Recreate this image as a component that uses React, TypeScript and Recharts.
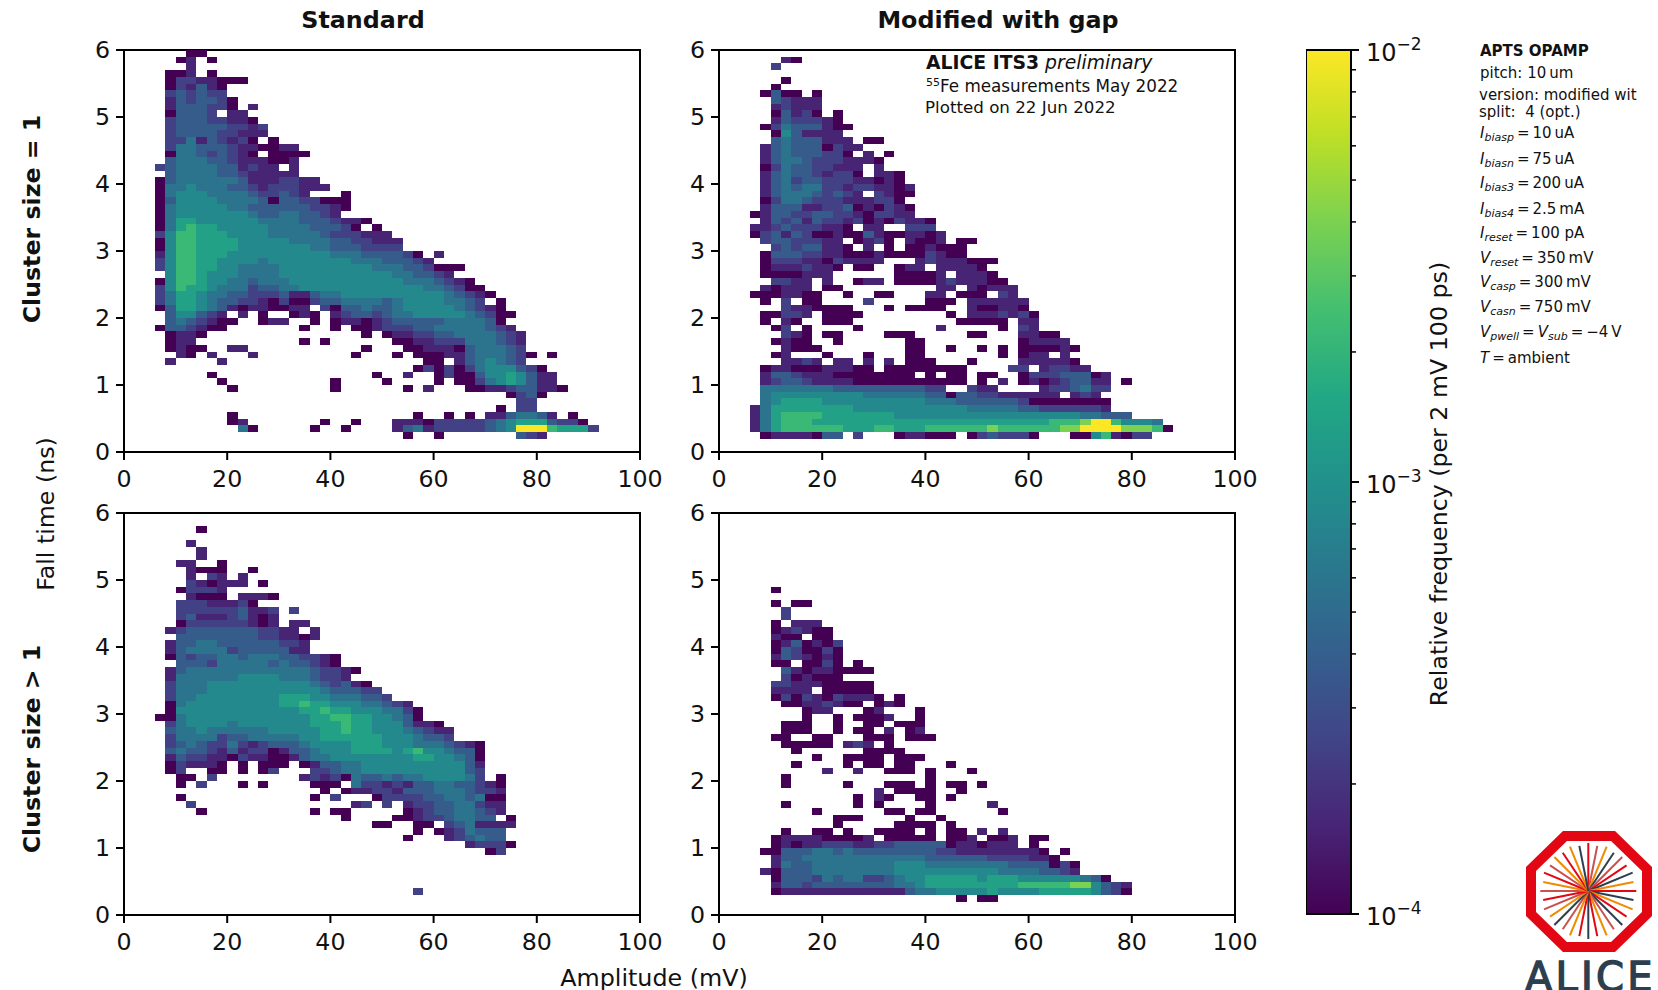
import React from "react";
import { ScatterChart, Scatter, XAxis, YAxis, ReferenceArea } from "recharts";

// Histogram rows, top (5.9-6.0 ns) to bottom. Each char is one 2 mV bin, grouped by five:
const LEVEL_FREQ = [1e-4, 1.58e-4, 2.4e-4, 3.8e-4, 5.8e-4, 8.7e-4, 1.38e-3, 2.2e-3, 4e-3, 1e-2];

const ROWS_STANDARD_SINGLE = [
  "..... .00..",
  "..... 01.0.",
  "..... .1...",
  "....0 01.0.",
  "....0 22110 00",
  "....0 21310",
  "....2 32322",
  "....1 32332 0",
  "....1 33322 0.1",
  "....0 3332. 11",
  "....2 33322 110",
  "....2 33333 2212",
  "....2 33332 2111",
  "....2 24132 120.0",
  "....2 44333 21100 11",
  "....0 44323 210.0 000",
  "....3 44433 21110 01",
  "...23 44443 31211 .1",
  "....3 44443 32111 11",
  "...03 44444 43111 2211",
  "...04 45444 33212 22111",
  "...04 55544 44322 321.. .0",
  "...03 55554 44430 33220 00",
  "...04 55555 44333 33322 10",
  "...04 55555 55433 44332 1",
  "...04 66555 55544 44333 2110",
  "...04 67665 55554 44433 320.0",
  "...25 77666 55554 44443 22211 1",
  "...05 77666 65555 54444 33221 11",
  "...05 77666 65555 55544 33322 22",
  "...15 77666 55555 55555 44433 3320. 1",
  "...25 77665 55545 55555 55444 33321",
  "...25 77665 54444 55555 55554 44332 000",
  "....5 77655 54444 55555 55555 54433 21",
  "...05 77655 44344 45555 55555 55444 3210",
  "...25 76654 44233 44555 55555 55554 43200",
  "...24 66544 33222 31134 45555 55555 54321 0",
  "...24 66543 32210 20023 34444 34555 54432 .0",
  "...03 66543 10110 011.2 03343 34555 55432 10",
  "....3 55321 .1.0. .010. 12332 34455 55543 200",
  "....3 43210 0..01 1..0. 01101 23333 34444 30",
  "...03 32100 ..... ..0.. 0.001 22233 44444 321",
  "....0 110.. ..... ..... ...0. 01122 33444 4321",
  "....0 11... ..... ..0.0 ..... .0011 22244 4321",
  "....0 100.. 11... ..... ...0. ..001 11034 4432",
  "..... 10.1. ..1.. ..... ..0.. .0.00 01134 44320 .0",
  "....1 ....1 ..... ..... ..... ....0 0.134 5432",
  "..... ..... ..... ..... ..... ...02 02024 55532 0",
  "..... ...0. ..... ..... ....0 ..1.. 02003 55653 11",
  "..... ....0 ..... ..... 0.... 0.... 0.002 45653 11",
  "..... ..... 0.... ..... 0.... ..0.1 ...00 11233 110",
  "..... ..... ..... ..... ..... ..... ..... ..023 0",
  "..... ..... ..... ..... ..... ..... ..... ...22",
  "..... ..... ..... ..... ..... ..... ..... .0.22",
  "..... ..... 0.... ..... ..... ...0. .0.0. 11344 31.0",
  "..... ..... 01... ....0 ..0.. .1110 22222 34566 63220",
  "..... ..... .40.. ...0. .0... .1341 22222 34599 97666 2",
  "..... ..... ..... ..... ..... ..0.. 0.... ...32 1",
];

const ROWS_GAP_SINGLE = [
  "",
  "..... .10",
  "..... 2",
  "",
  "..... .0",
  "..... 0",
  "....0 300.0",
  "..... 32111",
  "..... 12111",
  "..... 03120 .0",
  "..... 13222 10",
  "....0 24333 100",
  "..... 05311 11",
  "..... 34333 111.0 0",
  "....1 34333 0211",
  "....1 34333 220.1 .0",
  "....1 34432 22111 0",
  "....0 24332 2111. 1",
  "....1 34332 1220. 110",
  "....1 34233 22211 010",
  "....1 34344 22122 1101",
  "....1 34443 2321. 2100",
  "....0 24432 22111 220",
  "....1 33311 22301 0210",
  "...01 33223 32210 2211",
  "....1 32313 22120 10211 0",
  "...11 23222 110.1 1..22 2",
  "...02 31320 01003 10011 01",
  "....2 33222 11.01 20.10 01.00",
  "..... 23233 110.1 .0.00 1000",
  "....0 33322 11000 10000 2100",
  "....0 22211 02111 1...1 21110 00",
  "....0 11121 10.00 ..011 .1111 0",
  "....0 00011 1.... ..000 01.11 10",
  "..... 2211. 1..01 1.000 01211 100",
  "....1 0111. 00... ..... .11.1 0111",
  "...00 01100 ..0.. 00... 11.00 0.21",
  "....0 .2.00 ....2 ..... 000.1 11111",
  "..... .2110 000.. .0.00 00..1 00110",
  "....0 0221. 0000. ..... ..0.1 11212 0",
  "....0 .10.. 000.. ..... ...00 000.1 1",
  "..... 02.0. ...0. ..... .1... ..0.2 1",
  "..... .210. 00... .000. ....0 0...1 100",
  "..... 0100. .0... ...00 ..... ....0 1111",
  "..... .1000 ..... ...00 ..0.. 0.0.0 00010",
  "..... 01... 0...0 ...00 ..... ..0.0 11.1",
  "..... .1121 .11.1 .1.00 0...0 ....1 11110",
  "....0 11000 11100 .0000 0000. ...22 .1221 1",
  "....1 33211 10000 0000. 0.00. 00..0 22233 301",
  "....1 23321 11100 00000 0000. 0.1.0 10123 311.0",
  "....4 44444 43333 33333 22..2 11... .1223 422",
  "....4 55555 55554 44444 33033 22111 111.1 21",
  "....4 56666 55555 55555 44433 33332 00000 000",
  "...14 66666 66655 55555 55554 44443 32222 221",
  "...14 67777 66666 66555 55555 55555 55555 44333",
  "...14 67776 66666 66666 66666 66666 66777 89975 554",
  "...14 67777 77666 77666 77777 78777 77788 99998 8870",
  "....0 11110 33.2. ..011 000.0 23222 0...0 05710 22",
];

const ROWS_STANDARD_MULTI = [
  "",
  "",
  "..... ..0",
  "",
  "..... .1",
  "..... ..1",
  "..... ..1",
  "..... 11..0",
  "..... .1000 ..0",
  "..... .1.21 .1",
  "..... .2101 11.0",
  "..... 02221",
  "..... .1000 .1110",
  "..... 22211 120",
  "..... 22222 23112 .2",
  "..... 23111 23101",
  "..... 02222 22101 .11",
  "....1 23333 33322 11.1",
  "..... 33333 33322 1101",
  "....1 33443 33333 221",
  "....1 34444 23333 311",
  "....0 32334 43444 33221 0",
  "..... 33324 44443 43321 0",
  "....1 34444 44444 44432 210",
  "....1 44444 45555 44432 21",
  "....2 44455 55555 55543 2310",
  "....2 44455 55555 55554 33322",
  "....2 44555 55555 66655 44433 2",
  "....0 45555 55555 66766 55544 321",
  "....0 55555 55555 55667 66555 4420",
  "...00 45555 55555 55566 77665 5430",
  "....2 45555 45555 55566 67665 55311 0",
  "....3 44544 44445 55556 67665 55432 11",
  "....2 44442 33444 44556 66666 55543 32",
  "....2 34322 42123 33455 55666 55544 43210",
  "....3 43321 31220 13345 55666 65675 54330",
  "....1 32211 02110 01344 55555 55566 55430",
  "....0 21110 .0.00 0.013 34455 55555 55531",
  "....0 2..00 .0.02 ...22 34455 55555 55532",
  "..... 00.2. ..... ..121 20433 43445 55542 .0",
  "..... 0.2.. .0.0. ...00 0.422 12133 44332 10",
  "..... ..... ..... ....0 .0112 21333 44432 21",
  "..... 0.... ..... ...0. 2...0 22223 34434 00",
  "..... .2... ..... ..... ..12. 2.122 33442 11",
  "..... ..0.. ..... ...0. 00... ..012 33443 21",
  "..... ..... ..... ..... .0... .0012 23443 3.0",
  "..... ..... ..... ..... ....0 0..00 .2341 111",
  "..... ..... ..... ..... ..... ...0. 01243 33",
  "..... ..... ..... ..... ..... ..0.. .1234 33",
  "..... ..... ..... ..... ..... ..... ...12 220",
  "..... ..... ..... ..... ..... ..... ..... 02",
  "",
  "",
  "",
  "",
  "",
  "..... ..... ..... ..... ..... ...2.",
];

const ROWS_GAP_MULTI = [
  "", "", "", "", "", "", "", "", "", "", "",
  "..... 0",
  "",
  "..... 0.00",
  "..... .2",
  "..... .2",
  "..... 0.111",
  "..... 01210 0",
  "..... 100.0 0",
  "..... 01301 02",
  "..... 03200 20",
  "..... 13210 10",
  "..... 00.00 20.0",
  "..... .3101 10000",
  "..... .2010 00",
  "..... 22111 00000",
  "..... 1111. 00000",
  "..... 02021 02111 0.0",
  "..... .0011 2100. 010",
  "..... ...01 1...0 1...0",
  "..... ...0. .0.00 01..0",
  "..... .000. .0..0 0.000",
  "..... .000. .0.00 .1.01",
  "..... 00..0 0...0 00.00 0",
  "..... .0000 0.121 .0",
  "..... ..0.. ....0 000",
  "..... ....0 ..000 0.000",
  "..... ..0.. ..0.0 0.00. ..0",
  "..... ..... 1..1. .000. 0...0",
  "..... .0... ..... ..... 0",
  "..... .0... ..0.. .000. 0.00. 0",
  "..... ..... ..... 1.000 0..0",
  "..... ..... ...0. 10..0 0.0",
  "..... .0... ...0. 0.... 0.... .1",
  "..... ....0 ..... .00.0 0.... ..0",
  "..... ..... .000. ...0. .0",
  "..... ..... .0... ..000 0.0",
  "..... .0..0 0.0.. 0000. 0.00. 1.1",
  "..... 01111 00001 .0000 0.001 .001. 00",
  "..... 01011 22211 22333 33011 0111. 0",
  "....0 03334 43433 33333 32211 11111 10.0",
  "..... 13344 44444 44444 33333 32222 110",
  "..... 14334 44444 44555 44444 44433 33020",
  "....1 03334 44444 44555 55555 55444 43321",
  "..... 03332 43442 23455 66666 56665 55555 430",
  "..... 13323 33333 33445 66666 66667 77778 85321",
  "..... 01111 11111 11134 45555 56555 56666 65320",
  "..... ..... ..... ..... ...0. 00",
];

const AMP_TICKS = [0, 20, 40, 60, 80, 100];
const FALL_TICKS = [0, 1, 2, 3, 4, 5, 6];
const FREQ_TICKS = [
  1e-4, 2e-4, 3e-4, 4e-4, 5e-4, 6e-4, 7e-4, 8e-4, 9e-4, 1e-3,
  2e-3, 3e-3, 4e-3, 5e-3, 6e-3, 7e-3, 8e-3, 9e-3, 1e-2,
];
const FREQ_EXTENT = [1e-4, 1e-2];
const VIRIDIS = ["#440154", "#482475", "#414487", "#355f8d", "#2a788e", "#21918c", "#22a884", "#44bf70", "#7ad151", "#bddf26", "#fde725"];

const THIN = "\u2009";
const PARAMS: [string, string, string][][] = [
  [["I", "biasp", `${THIN}=${THIN}10${THIN}uA`]],
  [["I", "biasn", `${THIN}=${THIN}75${THIN}uA`]],
  [["I", "bias3", `${THIN}=${THIN}200${THIN}uA`]],
  [["I", "bias4", `${THIN}=${THIN}2.5${THIN}mA`]],
  [["I", "reset", `${THIN}=${THIN}100 pA`]],
  [["V", "reset", `${THIN}=${THIN}350${THIN}mV`]],
  [["V", "casp", `${THIN}=${THIN}300${THIN}mV`]],
  [["V", "casn", `${THIN}=${THIN}750${THIN}mV`]],
  [["V", "pwell", `${THIN}=${THIN}`], ["V", "sub", `${THIN}=${THIN}−4${THIN}V`]],
  [["T", "", `${THIN}=${THIN}ambient`]],
];
const PARAM_BASELINES = [138, 164, 188, 214, 238, 263, 287, 312, 337, 363];

const RAY_COLORS = [
  "#e30613", "#c9504f", "#f08a00", "#2d3e4e", "#c9504f", "#e30613", "#2d3e4e", "#f08a00",
  "#e30613", "#2d3e4e", "#f08a00", "#e30613", "#2d3e4e", "#c9504f", "#f08a00", "#e30613",
  "#2d3e4e", "#e30613", "#f08a00", "#c9504f", "#2d3e4e", "#f08a00", "#c9504f", "#e30613",
  "#c9504f", "#f08a00", "#e30613", "#c9504f", "#f08a00", "#e30613", "#f08a00", "#2d3e4e",
];

const FONT = "'DejaVu Sans', sans-serif";
const INK = "#111";
const PLOT_W = 516;
const PLOT_H = 402;
const AXIS_W = 70;
const TOP_PAD = 30;
const BIN_W = (PLOT_W / 100) * 2;
const BIN_H = (PLOT_H / 6) * 0.1;

type Cell = { amp: number; fall: number; freq: number };

function toCells(rows: string[]): Cell[] {
  const cells: Cell[] = [];
  rows.forEach((row, r) => {
    row.replace(/ /g, "").split("").forEach((ch, c) => {
      if (ch === ".") return;
      cells.push({ amp: (c + 0.5) * 2, fall: 6 - (r + 0.5) * 0.1, freq: LEVEL_FREQ[Number(ch)] });
    });
  });
  return cells;
}

function viridis(freq: number): string {
  const t = Math.min(1, Math.max(0, (Math.log10(freq) + 4) / 2));
  const p = t * (VIRIDIS.length - 1);
  const i = Math.min(VIRIDIS.length - 2, Math.floor(p));
  const f = p - i;
  const hex = (s: string, k: number) => parseInt(s.slice(1 + k * 2, 3 + k * 2), 16);
  const ch = [0, 1, 2].map((k) => Math.round(hex(VIRIDIS[i], k) * (1 - f) + hex(VIRIDIS[i + 1], k) * f));
  return `rgb(${ch[0]},${ch[1]},${ch[2]})`;
}

const HeatCell = (props: any) => {
  const { cx, cy, payload } = props;
  return (
    <rect
      x={cx - BIN_W / 2}
      y={cy - BIN_H / 2}
      width={BIN_W}
      height={BIN_H}
      fill={viridis(payload.freq)}
      shapeRendering="crispEdges"
    />
  );
};

const tickStyle = { fontFamily: FONT, fontSize: 23.7, fill: INK };

function Panel({ rows, left, top }: { rows: string[]; left: number; top: number }) {
  const data = toCells(rows);
  return (
    <div style={{ position: "absolute", left: left - AXIS_W, top: top - TOP_PAD }}>
      <ScatterChart
        width={AXIS_W + PLOT_W + 40}
        height={TOP_PAD + PLOT_H + 50}
        margin={{ top: TOP_PAD, right: 40, bottom: 0, left: 0 }}
      >
        <XAxis
          type="number"
          dataKey="amp"
          domain={[0, 100]}
          ticks={AMP_TICKS}
          interval={0}
          height={50}
          tick={tickStyle}
          tickSize={8}
          tickMargin={10}
          axisLine={{ stroke: "#000", strokeWidth: 2 }}
          tickLine={{ stroke: "#000", strokeWidth: 2 }}
        />
        <YAxis
          type="number"
          dataKey="fall"
          domain={[0, 6]}
          ticks={FALL_TICKS}
          interval={0}
          width={AXIS_W}
          tick={tickStyle}
          tickSize={8}
          tickMargin={6}
          axisLine={{ stroke: "#000", strokeWidth: 2 }}
          tickLine={{ stroke: "#000", strokeWidth: 2 }}
        />
        <Scatter data={data} shape={HeatCell} isAnimationActive={false} />
        <ReferenceArea x1={0} x2={100} y1={0} y2={6} fill="none" stroke="#000" strokeWidth={2} />
      </ScatterChart>
    </div>
  );
}

const ColorTick = (props: any) => {
  const { x, y, payload } = props;
  const exp = Math.log10(payload.value);
  const major = Math.abs(exp - Math.round(exp)) < 1e-6;
  return (
    <g>
      <line x1={x} x2={x + (major ? 8 : 5)} y1={y} y2={y} stroke="#000" strokeWidth={major ? 2 : 1.5} />
      {major && (
        <text x={x + 15} y={y + 11} fontFamily={FONT} fontSize={24} fill={INK}>
          10
          <tspan fontSize={17} dy={-11}>{`−${Math.abs(Math.round(exp))}`}</tspan>
        </text>
      )}
    </g>
  );
};

function ColorBar({ left, top }: { left: number; top: number }) {
  const endpoints = FREQ_EXTENT.map((freq) => ({ pos: 0.5, freq }));
  return (
    <div style={{ position: "absolute", left, top: top - TOP_PAD }}>
      <ScatterChart width={45 + 90} height={864 + TOP_PAD + 30} margin={{ top: TOP_PAD, right: 0, bottom: 30, left: 0 }}>
        <defs>
          <linearGradient id="viridisBar" x1="0" y1="1" x2="0" y2="0">
            {VIRIDIS.map((c, i) => (
              <stop key={c} offset={i / (VIRIDIS.length - 1)} stopColor={c} />
            ))}
          </linearGradient>
        </defs>
        <XAxis type="number" dataKey="pos" domain={[0, 1]} hide />
        <YAxis
          type="number"
          dataKey="freq"
          scale="log"
          orientation="right"
          domain={FREQ_EXTENT}
          ticks={FREQ_TICKS}
          interval={0}
          width={90}
          axisLine={false}
          tickLine={false}
          tickSize={0}
          tickMargin={0}
          tick={ColorTick}
        />
        <ReferenceArea
          x1={0}
          x2={1}
          y1={FREQ_EXTENT[0]}
          y2={FREQ_EXTENT[1]}
          fill="url(#viridisBar)"
          fillOpacity={1}
          stroke="#000"
          strokeWidth={2}
        />
        <Scatter data={endpoints} shape={() => <g />} isAnimationActive={false} />
      </ScatterChart>
    </div>
  );
}

function AliceLogo() {
  const cx = 1588.3;
  const cy = 891;
  return (
    <g>
      <polygon
        points="1565,836 1613,836 1647,869 1647,914 1613,947 1565,947 1531,914 1531,869"
        fill="#fff"
        stroke="#e30613"
        strokeWidth={10}
      />
      {RAY_COLORS.map((c, i) => {
        const a = (i * 2 * Math.PI) / RAY_COLORS.length;
        const r = i % 2 ? 46 : 48;
        return (
          <line
            key={i}
            x1={cx}
            y1={cy}
            x2={cx + r * Math.sin(a)}
            y2={cy - r * Math.cos(a)}
            stroke={c}
            strokeWidth={2}
          />
        );
      })}
      <text x={1525} y={991} fontFamily={FONT} fontSize={40} letterSpacing={3.2} fill="#2d3e4e" stroke="#2d3e4e" strokeWidth={1.4}>
        ALICE
      </text>
    </g>
  );
}

function Labels() {
  const rotated = (x: number, y: number, label: string, weight: number) => (
    <text
      x={x}
      y={y}
      transform={`rotate(-90 ${x} ${y})`}
      textAnchor="middle"
      dominantBaseline="central"
      fontFamily={FONT}
      fontWeight={weight}
      fontSize={23.7}
      fill={INK}
    >
      {label}
    </text>
  );
  const centered = (x: number, y: number, label: string, weight: number) => (
    <text x={x} y={y} textAnchor="middle" dominantBaseline="central" fontFamily={FONT} fontWeight={weight} fontSize={23.8} fill={INK}>
      {label}
    </text>
  );
  return (
    <svg width={1658} height={990} style={{ position: "absolute", left: 0, top: 0, pointerEvents: "none" }}>
      {centered(363, 20, "Standard", 700)}
      {centered(998, 20, "Modified with gap", 700)}
      {centered(654, 978, "Amplitude (mV)", 400)}
      {rotated(32, 219, "Cluster size = 1", 700)}
      {rotated(32, 749, "Cluster size > 1", 700)}
      {rotated(46, 514, "Fall time (ns)", 400)}
      {rotated(1439, 484, "Relative frequency (per 2 mV 100 ps)", 400)}

      <text x={926} y={69} fontFamily={FONT} fontSize={18.8} fill={INK}>
        <tspan fontWeight={700}>ALICE ITS3</tspan>
        <tspan fontStyle="italic"> preliminary</tspan>
      </text>
      <text x={926} y={92} fontFamily={FONT} fontSize={16.8} fill={INK}>
        <tspan fontSize={11} dy={-6}>55</tspan>
        <tspan dy={6}>Fe measurements May 2022</tspan>
      </text>
      <text x={925} y={113} fontFamily={FONT} fontSize={16.7} fill={INK}>
        Plotted on 22 Jun 2022
      </text>

      <g fontFamily={FONT} fontSize={15} fill={INK}>
        <text x={1480} y={56} fontWeight={700}>APTS OPAMP</text>
        <text x={1480} y={78}>{`pitch:${"\u00a0"}10${THIN}um`}</text>
        <text x={1479} y={100}>version: modified wit</text>
        <text x={1479} y={117}>{`split:${"\u00a0\u00a0"}4 (opt.)`}</text>
        {PARAMS.map((segments, i) => (
          <text key={i} x={1480} y={PARAM_BASELINES[i]}>
            {segments.map(([sym, sub, rest], j) => (
              <React.Fragment key={j}>
                <tspan fontStyle="italic">{sym}</tspan>
                {sub && <tspan fontStyle="italic" fontSize={11} dy={3}>{sub}</tspan>}
                <tspan dy={sub ? -3 : 0}>{rest}</tspan>
              </React.Fragment>
            ))}
          </text>
        ))}
      </g>
      <AliceLogo />
    </svg>
  );
}

export default function App() {
  return (
    <div style={{ position: "absolute", left: 0, top: 0, width: 1658, height: 990, overflow: "hidden", background: "#fff" }}>
      <Panel rows={ROWS_STANDARD_SINGLE} left={124} top={50} />
      <Panel rows={ROWS_GAP_SINGLE} left={719} top={50} />
      <Panel rows={ROWS_STANDARD_MULTI} left={124} top={513} />
      <Panel rows={ROWS_GAP_MULTI} left={719} top={513} />
      <ColorBar left={1306} top={50} />
      <Labels />
    </div>
  );
}
